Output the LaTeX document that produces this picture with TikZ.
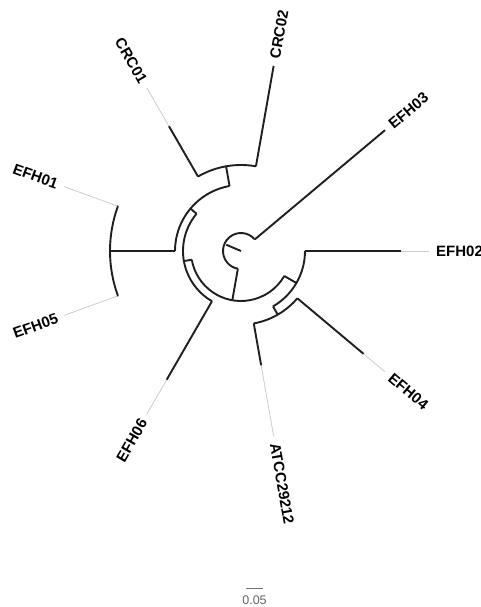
\documentclass[tikz,border=0pt]{standalone}
\usepackage{fontspec}
\setmainfont{Liberation Sans}
\usetikzlibrary{positioning}

\begin{document}
\begin{tikzpicture}[
  x=1pt, y=1pt,
  branch/.style={line width=1.9pt, draw=black!88, line cap=butt},
  guide/.style={line width=0.8pt, draw=black!20},
  tiplab/.style={font=\fontsize{15}{15}\bfseries\selectfont, inner sep=0pt},
  scalebar/.style={line width=0.9pt, draw=black!55},
  scalelab/.style={font=\fontsize{12.5}{12.5}\selectfont, text=black!60, inner sep=0pt},
]
\def\Rtip{188}   % aligned tip radius
\def\Rlab{195}   % label radius

\useasboundingbox (-241,-356) rectangle (239,251);

% ---- internal nodes (radius, angle) ----
\coordinate (root) at (0,0);
\coordinate (nZ) at (260:50);
\coordinate (nX) at (190:58);
\coordinate (nY) at (140:66);
\coordinate (nCRC) at (100:86);
\coordinate (nEF) at (180:131);
\coordinate (nW) at (330:64);
\coordinate (nV) at (300:73.5);

% ---- root ----
\draw[branch] (root) -- (157:16);
\draw[branch] (40:18) arc[start angle=40, end angle=260, radius=18];

% ---- inner clades: radial stem, then arc ----
\draw[branch] (260:18) -- (nZ);
\draw[branch] (190:50) arc[start angle=190, end angle=330, radius=50];
\draw[branch] (190:50) -- (nX);
\draw[branch] (140:58) arc[start angle=140, end angle=240, radius=58];
\draw[branch] (140:58) -- (nY);
\draw[branch] (100:66) arc[start angle=100, end angle=180, radius=66];
\draw[branch] (100:66) -- (nCRC);
\draw[branch] (80:86) arc[start angle=80, end angle=120, radius=86];
\draw[branch] (180:66) -- (nEF);
\draw[branch] (160:131) arc[start angle=160, end angle=200, radius=131];
\draw[branch] (330:50) -- (nW);
\draw[branch] (300:64) arc[start angle=300, end angle=360, radius=64];
\draw[branch] (300:64) -- (nV);
\draw[branch] (280:73.5) arc[start angle=280, end angle=320, radius=73.5];

% ---- tips: stem / black length / label rotation / anchor ----
\foreach \lab/\ang/\rin/\rblk/\rot/\anc in {%
  EFH02/0/64/159.5/0/west,
  EFH03/40/18/188/40/west,
  CRC02/80/86/188/80/west,
  CRC01/120/86/144/-60/east,
  EFH01/160/131/131.5/-20/east,
  EFH05/200/131/131.5/20/east,
  EFH06/240/58/148.5/60/east,
  ATCC29212/280/73.5/116/-80/west,
  EFH04/320/73.5/160/-40/west}{
    \coordinate (b-\lab) at (\ang:\rin);
    \coordinate (k-\lab) at (\ang:\rblk);
    \coordinate (t-\lab) at (\ang:\Rtip);
    \draw[guide] (k-\lab) -- (t-\lab);
    \draw[branch] (b-\lab) -- (k-\lab);
    \node[tiplab, rotate=\rot, anchor=\anc] (l-\lab) at (\ang:\Rlab) {\lab};
}

% ---- scale bar ----
\coordinate (sbL) at (4.7,-337.3);
\coordinate (sbR) at (22.3,-337.3);
\draw[scalebar] (sbL) -- (sbR);
\node[scalelab, anchor=north] (sbtext) at (13.5,-345) {0.05};
\end{tikzpicture}
\end{document}
